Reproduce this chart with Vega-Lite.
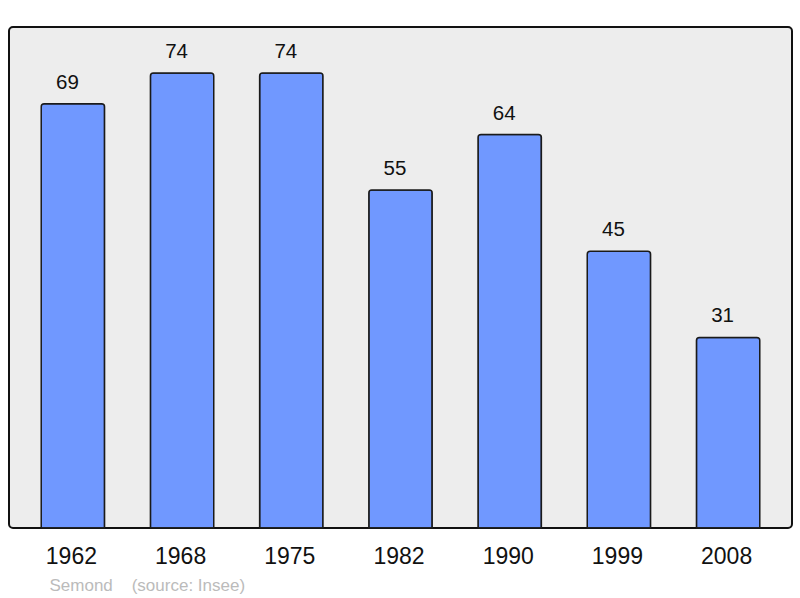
{
  "$schema": "https://vega.github.io/schema/vega-lite/v6.json",
  "width": 783,
  "height": 501,
  "autosize": {"type": "none"},
  "padding": {"left": 9, "top": 27, "right": 8, "bottom": 70},
  "background": "white",
  "data": {
    "values": [
      {"year": "1962", "pop": 69},
      {"year": "1968", "pop": 74},
      {"year": "1975", "pop": 74},
      {"year": "1982", "pop": 55},
      {"year": "1990", "pop": 64},
      {"year": "1999", "pop": 45},
      {"year": "2008", "pop": 31}
    ]
  },
  "encoding": {
    "x": {
      "field": "year",
      "type": "ordinal",
      "scale": {"paddingInner": 0.42, "paddingOuter": 0.295},
      "axis": {
        "title": "Semond\u00a0\u00a0\u00a0\u00a0(source: Insee)",
        "titleFont": "Liberation Sans",
        "titleFontSize": 17,
        "titleFontWeight": "normal",
        "titleColor": "#bbbbbb",
        "titleAnchor": "start",
        "titleAlign": "left",
        "titleBaseline": "alphabetic",
        "titleX": 40,
        "titleY": 62,
        "labelFont": "Liberation Sans",
        "labelFontSize": 23,
        "labelColor": "#111111",
        "labelAngle": 0,
        "labelBaseline": "alphabetic",
        "labelPadding": 35,
        "labelOffset": -1.5,
        "ticks": false,
        "domain": false,
        "grid": false
      }
    },
    "y": {
      "field": "pop",
      "type": "quantitative",
      "scale": {"domain": [0, 81.5], "nice": false, "zero": true},
      "axis": null
    }
  },
  "layer": [
    {
      "mark": {
        "type": "bar",
        "fill": "#7098ff",
        "stroke": "#1a1a1a",
        "strokeWidth": 1.5,
        "cornerRadiusTopLeft": 3,
        "cornerRadiusTopRight": 3
      }
    },
    {
      "mark": {
        "type": "text",
        "font": "Liberation Sans",
        "fontSize": 20.5,
        "color": "#111111",
        "baseline": "alphabetic",
        "dx": -5.5,
        "dy": -15
      },
      "encoding": {
        "text": {"field": "pop", "type": "quantitative"}
      }
    }
  ],
  "config": {
    "view": {
      "fill": "#ededed",
      "stroke": "#111111",
      "strokeWidth": 2,
      "cornerRadius": 4
    }
  }
}
